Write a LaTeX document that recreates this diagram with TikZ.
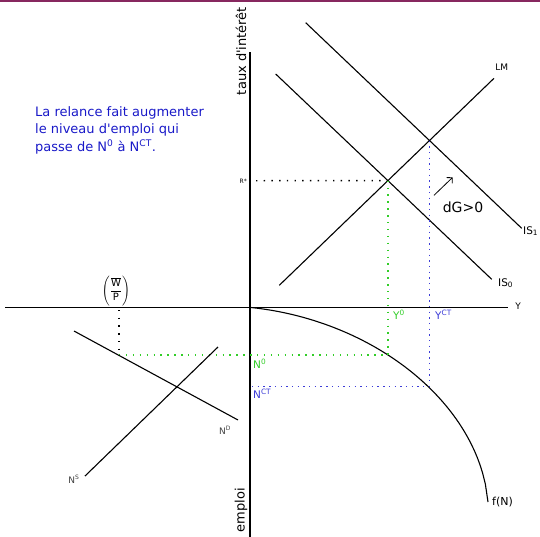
\documentclass[tikz,border=0pt]{standalone}
\usepackage{amsmath}
\usepackage{fontspec}
\setmainfont{DejaVu Sans}[Ligatures=TeXOff]
\usetikzlibrary{arrows.meta, positioning, intersections}

\definecolor{vert}{RGB}{50,205,40}
\definecolor{bleu}{RGB}{60,60,215}
\definecolor{bleutexte}{RGB}{25,25,200}
\definecolor{bandeau}{RGB}{135,40,95}

\begin{document}
\begin{tikzpicture}[
    x=1pt, y=-1pt,
    axe/.style={line width=1.5pt},
    droite/.style={line width=1.1pt},
    repere/.style={line width=1.4pt, dash pattern=on 1.4pt off 6.3pt},
    lbl/.style={inner sep=0pt, font=\fontsize{10.5}{12}\selectfont},
    petit/.style={inner sep=0pt, font=\fontsize{9}{10}\selectfont, text=black!75},
    titre/.style={inner sep=0pt, rotate=90, font=\fontsize{13}{15}\selectfont},
    >={Straight Barb[length=4pt]}
]

\useasboundingbox (0,0) rectangle (540,536);
\fill[bandeau] (0,0) rectangle (540,2.2);

\coordinate (ygauche) at (5,307.5);
\coordinate (ydroite) at (508,307.5);
\coordinate (rhaut) at (250,52);
\coordinate (nbas) at (250,540);
\draw[axe] (ygauche) -- (ydroite);
\draw[axe] (rhaut) -- (nbas);

\node[titre] (taux) at (241,51) {taux d'intérêt};
\node[titre] (emploi) at (241,510) {emploi};
\node[lbl, font=\fontsize{9}{10}\selectfont] (ylbl) at (518,306) {Y};

\node[inner sep=0pt, anchor=north west, align=left, text=bleutexte,
      font=\fontsize{13}{17.5}\selectfont] (relance) at (35,106)
{La relance fait augmenter\\le niveau d'emploi qui\\passe de N\textsuperscript{0} à N\textsuperscript{CT}.};

% IS-LM
\coordinate (lmbas) at (279.3,285.3);
\coordinate (lmhaut) at (494,78.3);
\coordinate (isohaut) at (275.7,74);
\coordinate (isobas) at (491.7,279.3);
\coordinate (isuhaut) at (305.7,22.7);
\coordinate (isubas) at (521.7,228.3);
\draw[droite, name path=lm] (lmbas) -- (lmhaut);
\draw[droite, name path=iso] (isohaut) -- (isobas);
\draw[droite, name path=isu] (isuhaut) -- (isubas);
\path[name intersections={of=lm and iso, by=ezero}];
\path[name intersections={of=lm and isu, by=eun}];

\node[lbl, font=\fontsize{9}{10}\selectfont] (lmlbl) at (501.7,67.3) {LM};
\node[lbl, anchor=west] (isolbl) at (498,283) {IS\textsubscript{0}};
\node[lbl, anchor=west] (isulbl) at (523,231) {IS\textsubscript{1}};

\coordinate (dgbas) at (434,195.3);
\coordinate (dghaut) at (452.7,177.3);
\draw[->, line width=0.8pt] (dgbas) -- (dghaut);
\node[lbl, font=\fontsize{14}{16}\selectfont] (dg) at (463,207) {dG>0};

\node[inner sep=0pt, font=\fontsize{6}{7}\selectfont, anchor=east] (rstar) at (247,181) {R*};
\coordinate (rdebut) at (256,180.7);
\draw[repere] (rdebut) -- (ezero);

% fonction de production
\coordinate (origine) at (251,307.5);
\coordinate (nzero) at (119,355);
\coordinate (nct) at (252,386.5);
\coordinate (fzero) at (ezero |- nzero);
\coordinate (fct) at (eun |- nct);
\draw[droite] (origine) plot[domain=0:237, samples=90]
  ({251+\x},{307.5+0.1038*\x+181.7*(1-sqrt(1-(\x/237.5)^2))}) coordinate (fin);
\node[lbl, font=\fontsize{11}{12}\selectfont, anchor=west] (flbl) at (492,502) {f(N)};

\draw[repere, vert, dash pattern=on 1.4pt off 5.5pt] (ezero) -- (fzero);
\draw[repere, vert, dash pattern=on 1.4pt off 5.5pt] (nzero) -- (fzero);
\draw[repere, bleu, dash pattern=on 1.4pt off 4.3pt] (eun) -- (fct);
\draw[repere, bleu, dash pattern=on 1.4pt off 4.3pt] (nct) -- (fct);

\node[lbl, text=vert, anchor=west] (yzero) at (393,315) {Y\textsuperscript{0}};
\node[lbl, text=bleu, anchor=west] (yct) at (435,315) {Y\textsuperscript{CT}};
\node[lbl, text=vert, anchor=west] (nzerolbl) at (253,364) {N\textsuperscript{0}};
\node[lbl, text=bleu, anchor=west] (nctlbl) at (253,394) {N\textsuperscript{CT}};

% marche du travail
\coordinate (ndhaut) at (74,331);
\coordinate (ndbas) at (238,420);
\coordinate (nsbas) at (85,476);
\coordinate (nshaut) at (218,347);
\draw[droite] (ndhaut) -- (ndbas);
\draw[droite] (nsbas) -- (nshaut);
\node[petit] (ndlbl) at (225,430) {N\textsuperscript{D}};
\node[petit] (nslbl) at (74,479) {N\textsuperscript{S}};

\coordinate (wp) at (119,310);
\draw[repere, line width=1.1pt] (wp) -- (nzero);
\node[inner sep=0pt, font=\fontsize{10}{12}\selectfont] (salaire) at (116,291)
  {$\left(\dfrac{\overline{\mbox{W}}}{\mbox{P}}\right)$};

\end{tikzpicture}
\end{document}
